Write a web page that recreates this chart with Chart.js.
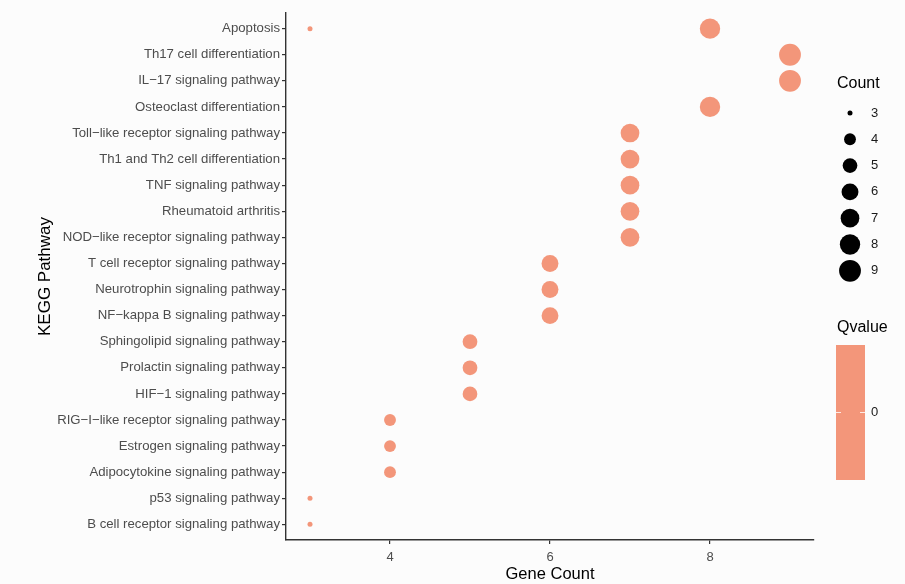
<!DOCTYPE html>
<html>
<head>
<meta charset="utf-8">
<script src="https://cdn.jsdelivr.net/npm/chart.js@4.4.0/dist/chart.umd.min.js"></script>
<style>
  html, body { margin: 0; padding: 0; background: #fcfcfc; }
  #wrap { width: 905px; height: 584px; position: relative; }
</style>
</head>
<body>
<div id="wrap"><canvas id="myChart"></canvas></div>
<script>
// pathways, top to bottom
const pathways = [
    'Apoptosis',
    'Th17 cell differentiation',
    'IL\u221217 signaling pathway',
    'Osteoclast differentiation',
    'Toll\u2212like receptor signaling pathway',
    'Th1 and Th2 cell differentiation',
    'TNF signaling pathway',
    'Rheumatoid arthritis',
    'NOD\u2212like receptor signaling pathway',
    'T cell receptor signaling pathway',
    'Neurotrophin signaling pathway',
    'NF\u2212kappa B signaling pathway',
    'Sphingolipid signaling pathway',
    'Prolactin signaling pathway',
    'HIF\u22121 signaling pathway',
    'RIG\u2212I\u2212like receptor signaling pathway',
    'Estrogen signaling pathway',
    'Adipocytokine signaling pathway',
    'p53 signaling pathway',
    'B cell receptor signaling pathway'
];
// each point: which pathway, and its gene count (Apoptosis shows up twice)
const pointPathway = ['Apoptosis', 'Apoptosis', 'Th17 cell differentiation', 'IL\u221217 signaling pathway',
    'Osteoclast differentiation', 'Toll\u2212like receptor signaling pathway', 'Th1 and Th2 cell differentiation',
    'TNF signaling pathway', 'Rheumatoid arthritis', 'NOD\u2212like receptor signaling pathway',
    'T cell receptor signaling pathway', 'Neurotrophin signaling pathway', 'NF\u2212kappa B signaling pathway',
    'Sphingolipid signaling pathway', 'Prolactin signaling pathway', 'HIF\u22121 signaling pathway',
    'RIG\u2212I\u2212like receptor signaling pathway', 'Estrogen signaling pathway',
    'Adipocytokine signaling pathway', 'p53 signaling pathway', 'B cell receptor signaling pathway'];
const geneCount = [3, 8, 9, 9, 8, 7, 7, 7, 7, 7, 6, 6, 6, 5, 5, 5, 4, 4, 4, 3, 3];
const xTicks = [4, 6, 8];
const countLegend = [3, 4, 5, 6, 7, 8, 9];
const qvalueLegend = ['0'];

const dotColor = 'rgb(243,150,122)';
const textGray = '#4d4d4d';
const font = "'Liberation Sans', Arial, sans-serif";

// ggplot-like area palette: radius grows with sqrt of the rescaled value
function sizeFor(v) {
    const rMin = 2.5, rMax = 10.9, lo = 3, hi = 9;
    return rMin + Math.sqrt((v - lo) / (hi - lo)) * (rMax - rMin);
}

const points = [];
for (let i = 0; i < geneCount.length; i++) {
    points.push({
        x: geneCount[i],
        y: pathways.indexOf(pointPathway[i]),
        r: sizeFor(geneCount[i])
    });
}

const legendPlugin = {
    id: 'sideLegend',
    afterDraw(chart) {
        const ctx = chart.ctx;
        ctx.save();
        ctx.fillStyle = '#000';
        ctx.font = '16px ' + font;
        ctx.textAlign = 'left';
        ctx.textBaseline = 'middle';
        ctx.fillText('Count', 837, 84);
        ctx.font = '13px ' + font;
        countLegend.forEach(function (c, i) {
            const y = 113 + i * 26.3;
            ctx.fillStyle = '#000';
            ctx.beginPath();
            ctx.arc(850, y, sizeFor(c), 0, Math.PI * 2);
            ctx.fill();
            ctx.fillStyle = '#1a1a1a';
            ctx.fillText(String(c), 871, y);
        });
        // Qvalue colour bar
        ctx.fillStyle = '#000';
        ctx.font = '16px ' + font;
        ctx.fillText('Qvalue', 837, 328);
        ctx.fillStyle = dotColor;
        ctx.fillRect(836, 345, 29, 135);
        ctx.strokeStyle = 'rgba(255,255,255,0.8)';
        ctx.lineWidth = 1;
        ctx.beginPath();
        ctx.moveTo(836, 412.5); ctx.lineTo(841, 412.5);
        ctx.moveTo(860, 412.5); ctx.lineTo(865, 412.5);
        ctx.stroke();
        ctx.fillStyle = '#1a1a1a';
        ctx.font = '13px ' + font;
        ctx.fillText(qvalueLegend[0], 871, 412);
        ctx.restore();
    }
};

new Chart(document.getElementById('myChart').getContext('2d'), {
    type: 'bubble',
    data: {
        datasets: [{
            data: points,
            backgroundColor: dotColor,
            borderWidth: 0,
            radius: 0,
            hoverRadius: 0
        }]
    },
    options: {
        responsive: true,
        maintainAspectRatio: false,
        animation: false,
        events: [],
        layout: { padding: { left: 35, top: 13, right: 91, bottom: 0 } },
        plugins: { legend: { display: false }, tooltip: { enabled: false } },
        scales: {
            x: {
                type: 'linear',
                min: 2.7,
                max: 9.3,
                afterBuildTicks: function (s) { s.ticks = xTicks.map(v => ({ value: v })); },
                afterFit: function (s) { s.height = 44; },
                grid: { drawOnChartArea: false, drawTicks: true, tickLength: 4, color: '#333', lineWidth: 1.2 },
                border: { color: '#333', width: 1.4 },
                ticks: { color: textGray, font: { family: font, size: 13 }, padding: 6 },
                title: { display: true, text: 'Gene Count', color: '#000', font: { family: font, size: 16.5 }, padding: { top: 0, bottom: 0 } }
            },
            y: {
                type: 'linear',
                reverse: true,
                min: -0.6,
                max: 19.6,
                afterBuildTicks: function (s) { s.ticks = pathways.map((p, i) => ({ value: i })); },
                afterFit: function (s) { s.width = 251; },
                grid: { drawOnChartArea: false, drawTicks: true, tickLength: 4, color: '#333', lineWidth: 1.2 },
                border: { color: '#333', width: 1.4 },
                ticks: {
                    color: textGray,
                    font: { family: font, size: 13.2 },
                    padding: 2,
                    autoSkip: false,
                    callback: function (v) { return pathways[v]; }
                },
                title: { display: true, text: 'KEGG Pathway', color: '#000', font: { family: font, size: 17 }, padding: 0 }
            }
        }
    },
    plugins: [legendPlugin]
});
</script>
</body>
</html>
